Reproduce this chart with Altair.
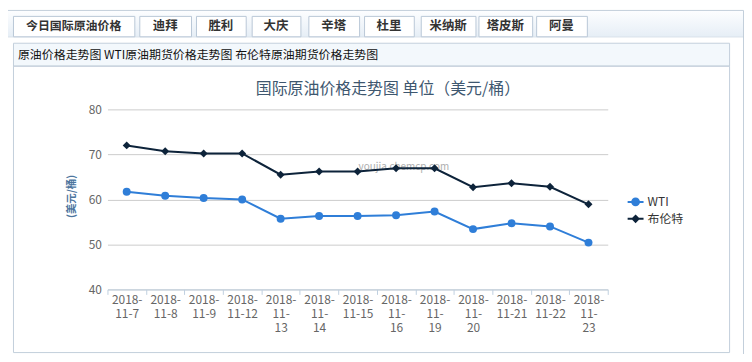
import altair as alt
import pandas as pd

# ---------------- data ----------------
tick_labels = ["2018-|11-7", "2018-|11-8", "2018-|11-9", "2018-|11-12", "2018-|11-|13",
               "2018-|11-|14", "2018-|11-15", "2018-|11-|16", "2018-|11-|19", "2018-|11-|20",
               "2018-|11-21", "2018-|11-22", "2018-|11-|23"]
wti = [61.7, 60.8, 60.3, 60.0, 55.7, 56.3, 56.3, 56.5, 57.3, 53.4, 54.7, 54.0, 50.4]
brent = [72.0, 70.7, 70.2, 70.2, 65.5, 66.2, 66.2, 66.9, 66.9, 62.7, 63.6, 62.8, 58.9]
series_names = ["WTI", "布伦特"]
series_colors = ["#2f7ed8", "#0d233a"]
y_ticks = [40, 50, 60, 70, 80]

tab_names = ["今日国际原油价格", "迪拜", "胜利", "大庆", "辛塔", "杜里", "米纳斯", "塔皮斯", "阿曼"]
subtitle_text = "原油价格走势图 WTI原油期货价格走势图 布伦特原油期货价格走势图"
chart_title = "国际原油价格走势图 单位（美元/桶）"
y_title = "(美元/桶)"
watermark = "youjia.chemcp.com"

# ---------------- layout (page pixels) ----------------
tab_edges = [(13, 135), (140, 192), (197, 247), (253, 302), (310, 361),
             (366, 416), (423, 478), (481, 535), (539, 590)]
OX, OY = 108, 109          # plot origin on the page
W, H = 503, 181
TOTAL_W, TOTAL_H = 740, 346
FONT = "Noto Sans CJK SC"


def px(v):
    return v - OX


def py(v):
    return v - OY


one = alt.Data(values=[{"k": 1}])


def rect(x1, x2, y1, y2, **kw):
    return alt.Chart(one).mark_rect(x=px(x1), x2=px(x2), y=py(y1), y2=py(y2), **kw)


def text(t, x, y, **kw):
    return alt.Chart(one).mark_text(text=t, x=px(x), y=py(y), font=FONT, **kw)


decor = []
# tab bar background with gradient
decor.append(rect(7.5, 747.5, 9.5, 36, fill=alt.Gradient(
    gradient="linear", x1=0, x2=0, y1=0, y2=1,
    stops=[alt.GradientStop(color="#fdfeff", offset=0),
           alt.GradientStop(color="#e6eef6", offset=1)])))
# outer frame
decor.append(rect(7.5, 747.5, 9.5, 420, fillOpacity=0, stroke="#c3cfdb", strokeWidth=1))
# tab bar bottom line
decor.append(rect(7.5, 747.5, 36, 36.5, fill="#b9c8d7"))
# tabs
for (a, b), name in zip(tab_edges, tab_names):
    decor.append(rect(a + 0.5, b + 0.5, 15.5, 36, fill="#ffffff", stroke="#b9c8d7", strokeWidth=1))
    decor.append(text(name, (a + b) / 2, 25.5, fontSize=12.5 if name != tab_names[0] else 12,
                      fontWeight="bold", color="#333333", align="center", baseline="middle"))
# subtitle bar
decor.append(rect(13.5, 733.5, 42.5, 65.5, fill="#f3f8fc", stroke="#c3cfdb", strokeWidth=1))
decor.append(text(subtitle_text, 18, 54, fontSize=12, color="#111111", align="left", baseline="middle"))
# main box
decor.append(rect(13.5, 733.5, 65.5, 353.5, fillOpacity=0, stroke="#c3cfdb", strokeWidth=1))
# chart title & watermark
decor.append(text(chart_title, 390, 89, fontSize=16, color="#3e576f", align="center", baseline="middle"))
decor.append(text(watermark, 406, 167, fontSize=10, color="#9a9a9a", opacity=0.8,
                  align="center", baseline="middle"))

# ---------------- chart ----------------
df = pd.DataFrame({
    "date": tick_labels * 2,
    "series": [series_names[0]] * len(wti) + [series_names[1]] * len(brent),
    "price": wti + brent,
})

x_enc = alt.X("date:N", sort=tick_labels,
              scale=alt.Scale(type="band", paddingInner=0, paddingOuter=0),
              axis=alt.Axis(title=None, labelExpr="split(datum.label, '|')", labelAngle=0,
                            tickBand="extent", tickSize=5, tickColor="#C0D0E0",
                            domainColor="#C0D0E0", labelColor="#666666", labelFontSize=12,
                            labelLineHeight=14, labelBaseline="top", labelPadding=0,
                            labelOverlap=False, grid=False, labelFont=FONT))
y_enc = alt.Y("price:Q", scale=alt.Scale(domain=[40, 80], nice=False, zero=False),
              axis=alt.Axis(values=y_ticks, title=y_title, titleX=-36, titleY=87,
                            titleAngle=270, titleAlign="center", titleBaseline="middle",
                            titleFontSize=10.5, titleFontWeight="bold", titleColor="#4d759e",
                            titleFont=FONT, domain=False, ticks=False, labelPadding=6,
                            labelColor="#666666", labelFontSize=12, labelFont=FONT,
                            gridColor="#cccccc", gridWidth=1))
color_scale = alt.Scale(domain=series_names, range=series_colors)

legend_paths = [
    "M-1,-0.125H1V0.125H-1Z M0.55,0A0.55,0.55 0 1,1 -0.55,0A0.55,0.55 0 1,1 0.55,0Z",
    "M-1,-0.125H1V0.125H-1Z M0,-0.55L0.55,0L0,0.55L-0.55,0Z",
]
leg = alt.Legend(title=None, orient="none", legendX=523, legendY=85, symbolSize=256,
                 symbolOpacity=1, symbolStrokeWidth=0, symbolType="circle",
                 labelFontSize=12, labelColor="#333333",
                 labelFont=FONT, rowPadding=3, labelOffset=4)
color_enc = alt.Color("series:N", scale=color_scale, legend=leg)

base = alt.Chart(df)
lines = base.mark_line(strokeWidth=2).encode(x=x_enc, y=y_enc, color=color_enc)
pts_wti = base.transform_filter(alt.datum.series == series_names[0]).mark_point(
    filled=True, shape="circle", size=64, opacity=1).encode(x=x_enc, y=y_enc, color=color_enc)
pts_brent = base.transform_filter(alt.datum.series == series_names[1]).mark_point(
    filled=True, shape="diamond", size=64, opacity=1).encode(x=x_enc, y=y_enc, color=color_enc)
legend_layer = base.mark_point(filled=True, opacity=0).encode(
    x=x_enc, y=y_enc, color=color_enc,
    shape=alt.Shape("series:N", scale=alt.Scale(domain=series_names, range=legend_paths), legend=leg))

chart = alt.layer(*decor, lines, pts_wti, pts_brent, legend_layer).properties(
    width=W, height=H,
    padding={"left": OX - 8, "top": OY - 8, "right": TOTAL_W - (OX - 8) - W,
             "bottom": TOTAL_H - (OY - 8) - H},
    autosize=alt.AutoSizeParams(type="none"),
    background="#ffffff",
).configure_view(strokeWidth=0)

chart.save("out.html", embed_options={"renderer": "svg", "actions": False})
